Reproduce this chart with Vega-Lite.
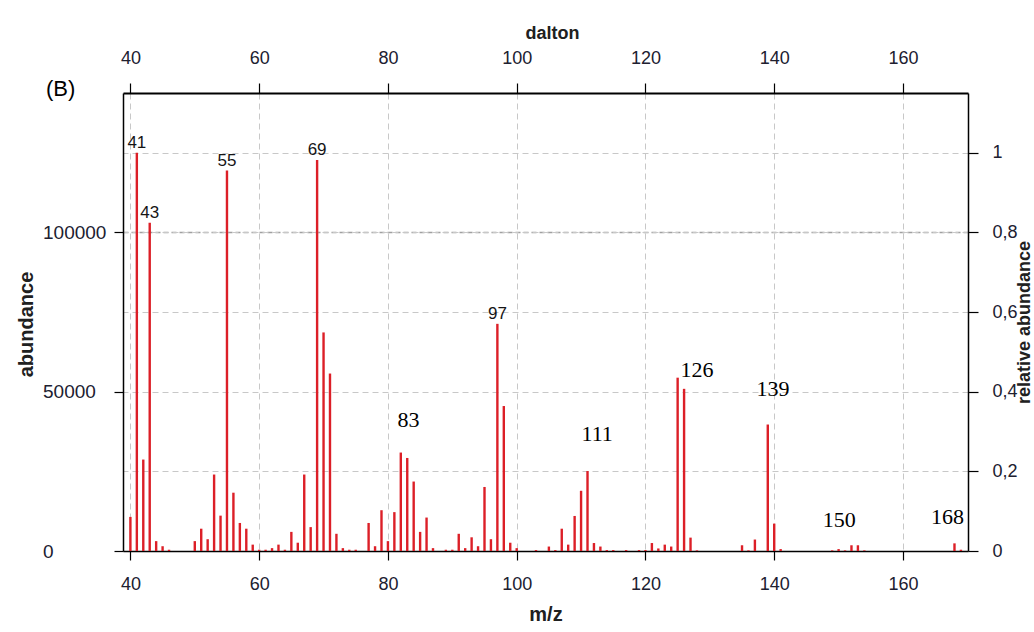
{
  "$schema": "https://vega.github.io/schema/vega-lite/v6.json",
  "width": 845,
  "height": 458,
  "autosize": {"type": "none"},
  "padding": {"left": 123, "top": 93, "right": 66, "bottom": 81},
  "background": "white",
  "config": {"view": {"stroke": null}, "font": "Liberation Sans"},
  "title": {"text": "(B)", "anchor": "start", "frame": "group", "font": "Liberation Sans", "fontSize": 22, "fontWeight": "normal", "color": "#000", "dx": -77, "dy": 81},
  "datasets": {
    "spectrum": [
      {"mz": 40, "abundance": 10700}, {"mz": 41, "abundance": 125000, "label": "41"}, {"mz": 42, "abundance": 28700}, {"mz": 43, "abundance": 103000, "label": "43"},
      {"mz": 44, "abundance": 3100}, {"mz": 45, "abundance": 1500}, {"mz": 46, "abundance": 400},
      {"mz": 50, "abundance": 3100}, {"mz": 51, "abundance": 7000}, {"mz": 52, "abundance": 3700}, {"mz": 53, "abundance": 24000},
      {"mz": 54, "abundance": 11100}, {"mz": 55, "abundance": 119400, "label": "55"}, {"mz": 56, "abundance": 18300}, {"mz": 57, "abundance": 8800},
      {"mz": 58, "abundance": 7000}, {"mz": 59, "abundance": 2000}, {"mz": 60, "abundance": 400}, {"mz": 61, "abundance": 400},
      {"mz": 62, "abundance": 900}, {"mz": 63, "abundance": 2000}, {"mz": 64, "abundance": 400}, {"mz": 65, "abundance": 6000},
      {"mz": 66, "abundance": 2600}, {"mz": 67, "abundance": 24000}, {"mz": 68, "abundance": 7500}, {"mz": 69, "abundance": 122700, "label": "69"},
      {"mz": 70, "abundance": 68600}, {"mz": 71, "abundance": 55700}, {"mz": 72, "abundance": 5400}, {"mz": 73, "abundance": 900},
      {"mz": 74, "abundance": 400}, {"mz": 75, "abundance": 400}, {"mz": 77, "abundance": 8800}, {"mz": 78, "abundance": 1500},
      {"mz": 79, "abundance": 12800}, {"mz": 80, "abundance": 3100}, {"mz": 81, "abundance": 12200}, {"mz": 82, "abundance": 30900},
      {"mz": 83, "abundance": 29200}, {"mz": 84, "abundance": 21800}, {"mz": 85, "abundance": 6000}, {"mz": 86, "abundance": 10500},
      {"mz": 87, "abundance": 900}, {"mz": 89, "abundance": 400}, {"mz": 90, "abundance": 400}, {"mz": 91, "abundance": 5400},
      {"mz": 92, "abundance": 900}, {"mz": 93, "abundance": 4300}, {"mz": 94, "abundance": 1500}, {"mz": 95, "abundance": 20100},
      {"mz": 96, "abundance": 3700}, {"mz": 97, "abundance": 71300, "label": "97"}, {"mz": 98, "abundance": 45500}, {"mz": 99, "abundance": 2600},
      {"mz": 100, "abundance": 900}, {"mz": 103, "abundance": 300}, {"mz": 105, "abundance": 1400}, {"mz": 106, "abundance": 300},
      {"mz": 107, "abundance": 7000}, {"mz": 108, "abundance": 2000}, {"mz": 109, "abundance": 11000}, {"mz": 110, "abundance": 18900},
      {"mz": 111, "abundance": 25100}, {"mz": 112, "abundance": 2500}, {"mz": 113, "abundance": 1400}, {"mz": 114, "abundance": 300},
      {"mz": 115, "abundance": 300}, {"mz": 117, "abundance": 300}, {"mz": 119, "abundance": 300}, {"mz": 120, "abundance": 300},
      {"mz": 121, "abundance": 2500}, {"mz": 122, "abundance": 800}, {"mz": 123, "abundance": 2000}, {"mz": 124, "abundance": 1400},
      {"mz": 125, "abundance": 54400}, {"mz": 126, "abundance": 50900}, {"mz": 127, "abundance": 4200}, {"mz": 128, "abundance": 200},
      {"mz": 135, "abundance": 1800}, {"mz": 136, "abundance": 200}, {"mz": 137, "abundance": 3600}, {"mz": 139, "abundance": 39700},
      {"mz": 140, "abundance": 8600}, {"mz": 141, "abundance": 600}, {"mz": 149, "abundance": 200}, {"mz": 150, "abundance": 600},
      {"mz": 151, "abundance": 200}, {"mz": 152, "abundance": 1800}, {"mz": 153, "abundance": 1800}, {"mz": 154, "abundance": 200},
      {"mz": 168, "abundance": 2400}, {"mz": 169, "abundance": 400}
    ],
    "notes": [
      {"x": 83.2, "y": 41000, "label": "83"},
      {"x": 112.5, "y": 36600, "label": "111"},
      {"x": 128.0, "y": 56700, "label": "126"},
      {"x": 139.8, "y": 51000, "label": "139"},
      {"x": 150.1, "y": 9600, "label": "150"},
      {"x": 166.9, "y": 10800, "label": "168"}
    ]
  },
  "layer": [
    {
      "data": {"name": "spectrum"},
      "mark": {"type": "rule", "color": "#dc1f27", "strokeWidth": 2.4},
      "encoding": {
        "x": {
          "field": "mz", "type": "quantitative",
          "scale": {"domain": [38.85, 170.1], "nice": false, "zero": false},
          "axis": {
            "orient": "bottom", "title": "m/z", "values": [40, 60, 80, 100, 120, 140, 160],
            "grid": true, "gridColor": "#c8c8c8", "gridDash": [6, 4], "gridWidth": 1,
            "domainColor": "#000", "domainWidth": 1.5, "tickColor": "#000", "tickSize": 9, "tickWidth": 1.2,
            "labelFont": "Liberation Sans", "labelFontSize": 18, "labelColor": "#202030", "labelPadding": 15,
            "titleFont": "Liberation Sans", "titleFontSize": 20, "titleFontWeight": "bold", "titleColor": "#202020",
            "titleY": 63, "titleBaseline": "middle"
          }
        },
        "y": {
          "field": "abundance", "type": "quantitative",
          "scale": {"domain": [0, 143750], "nice": false},
          "axis": {
            "orient": "left", "title": "abundance", "values": [0, 50000, 100000], "format": "d",
            "grid": true, "gridColor": "#a0a0a0", "gridDash": [5, 3], "gridWidth": 1.6,
            "gridOpacity": {"condition": {"test": "datum.value == 100000", "value": 1}, "value": 0},
            "domainColor": "#000", "domainWidth": 1.5, "tickColor": "#000", "tickSize": 9, "tickWidth": 1.2,
            "labelFont": "Liberation Sans", "labelFontSize": 19, "labelColor": "#202030", "labelAlign": "left", "labelPadding": 71.5,
            "titleFont": "Liberation Sans", "titleFontSize": 20, "titleFontWeight": "bold", "titleColor": "#202020",
            "titleAngle": -90, "titleBaseline": "middle", "titleX": -97, "titleY": 231
          }
        },
        "y2": {"datum": 0}
      }
    },
    {
      "data": {"name": "spectrum"},
      "transform": [{"filter": "datum.label != null"}],
      "mark": {"type": "text", "font": "Liberation Sans", "fontSize": 17, "baseline": "bottom", "dy": -1, "color": "#151515"},
      "encoding": {
        "x": {
          "field": "mz", "type": "quantitative",
          "axis": {
            "orient": "top", "title": "dalton", "values": [40, 60, 80, 100, 120, 140, 160], "grid": false,
            "domainColor": "#000", "domainWidth": 2, "tickColor": "#000", "tickSize": 10, "tickWidth": 1.2,
            "labelFont": "Liberation Sans", "labelFontSize": 18, "labelColor": "#202030", "labelPadding": 16,
            "titleFont": "Liberation Sans", "titleFontSize": 18, "titleFontWeight": "bold", "titleColor": "#202020",
            "titleY": -60, "titleX": 429, "titleBaseline": "middle"
          }
        },
        "y": {
          "field": "abundance", "type": "quantitative",
          "axis": {
            "orient": "right", "title": "relative abundance", "values": [0, 25000, 50000, 75000, 100000, 125000],
            "labelExpr": "datum.value == 0 ? '0' : datum.value == 125000 ? '1' : replace(format(datum.value / 125000, '.1f'), '.', ',')",
            "grid": true, "gridColor": "#c8c8c8", "gridDash": [6, 4], "gridWidth": 1,
            "domainColor": "#000", "domainWidth": 1.5, "tickColor": "#000", "tickSize": 10, "tickWidth": 1.2,
            "labelFont": "Liberation Sans", "labelFontSize": 18, "labelColor": "#202030", "labelPadding": 14,
            "titleFont": "Liberation Sans", "titleFontSize": 18, "titleFontWeight": "bold", "titleColor": "#202020",
            "titleAngle": -90, "titleBaseline": "middle", "titleX": 56, "titleY": 229
          }
        },
        "text": {"field": "label"}
      }
    },
    {
      "data": {"name": "notes"},
      "mark": {"type": "text", "font": "Liberation Serif", "fontSize": 22, "baseline": "middle", "color": "#000"},
      "encoding": {
        "x": {"field": "x", "type": "quantitative", "axis": null},
        "y": {"field": "y", "type": "quantitative", "axis": null},
        "text": {"field": "label"}
      }
    }
  ],
  "resolve": {"axis": {"x": "independent", "y": "independent"}}
}
